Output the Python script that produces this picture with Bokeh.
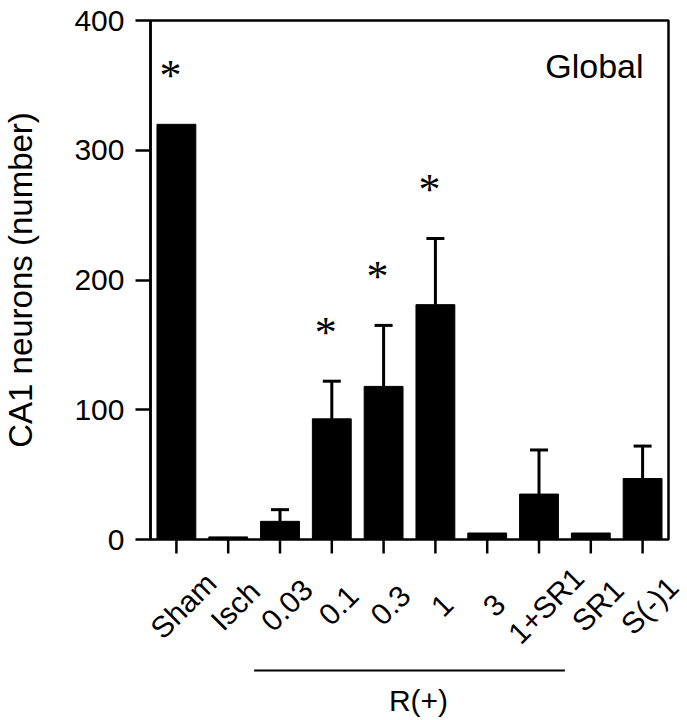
import math
from bokeh.plotting import figure
from bokeh.models import (ColumnDataSource, Range1d, FixedTicker, LabelSet, Label,
                          Whisker, TeeHead, BoxAnnotation)
from bokeh.core.properties import value
from bokeh.embed import file_html
from bokeh.resources import INLINE

# ---- data ----
categories = ["Sham", "Isch", "0.03", "0.1", "0.3", "1", "3", "1+SR1", "SR1", "S(-)1"]
neurons = [320, 2, 14, 93, 118, 181, 5, 35, 5, 47]
sem = [0, 0, 9, 29, 47, 51, 0, 34, 0, 25]
significant = [True, False, False, True, True, True, False, False, False, False]
y_ticks = [0, 100, 200, 300, 400]
group_label = "R(+)"
group_members = ["0.03", "0.1", "0.3", "1", "3", "1+SR1"]
panel_label = "Global"
y_label = "CA1 neurons (number)"

FONT = "Liberation Sans"
xs = list(range(len(categories)))
upper = [n + e for n, e in zip(neurons, sem)]

# ---- layout constants (pixels) ----
W, H = 687, 720
BOX_W = 518            # width of the boxed plot area
BOX_H = 519            # height of the 0..400 boxed area
LEFT = 150             # left edge of the box
TOP = 20               # top edge of the box
y_max = 400
x_start, x_end = -0.5, len(categories) - 0.5
px_per_unit = BOX_W / (x_end - x_start)
units_per_px = y_max / BOX_H
BELOW_H = H - TOP - BOX_H
RIGHT_PAD = W - LEFT - BOX_W


def px_below(px):
    """data y for a point `px` screen pixels below the zero line"""
    return -px * units_per_px


p = figure(frame_width=W, frame_height=H,
           x_range=Range1d(x_start - LEFT / px_per_unit, x_end + RIGHT_PAD / px_per_unit),
           y_range=Range1d(px_below(BELOW_H), y_max + TOP * units_per_px),
           output_backend="svg", toolbar_location=None, x_axis_location=None,
           min_border_left=0, min_border_top=0, min_border_right=0, min_border_bottom=0)
p.xgrid.visible = False
p.ygrid.visible = False
p.background_fill_color = "white"
p.border_fill_color = "white"
p.outline_line_color = None

# box around the data area
p.add_layout(BoxAnnotation(left=x_start, right=x_end, bottom=0, top=y_max,
                           fill_color=None, fill_alpha=0, line_color="black",
                           line_width=2.5, line_alpha=1.0, level="underlay"))

# y axis, pinned to the left edge of the box and limited to 0..400
ya = p.yaxis[0]
ya.fixed_location = x_start
ya.bounds = (0, y_max)
ya.ticker = FixedTicker(ticks=y_ticks)
ya.major_tick_out = 15
ya.major_tick_in = 0
ya.minor_tick_out = 0
ya.minor_tick_in = 0
ya.axis_line_width = 2.5
ya.major_tick_line_width = 2.5
ya.axis_line_color = "black"
ya.major_tick_line_color = "black"
ya.major_label_text_font = FONT
ya.major_label_text_font_size = "30px"
ya.major_label_text_color = "black"
ya.major_label_standoff = 11

# y axis title, centred on the 0..400 box
p.text(x=[x_start], y=[y_max / 2], text=[y_label], angle=math.pi / 2, x_offset=-130,
       text_align="center", text_baseline="middle", text_font=value(FONT),
       text_font_size="33px", text_color="black")

src = ColumnDataSource(dict(x=xs, top=neurons, upper=upper, cat=categories,
                            zero=[0] * len(xs), tick=[px_below(14)] * len(xs)))

# x ticks below the zero line
p.segment(x0="x", x1="x", y0="zero", y1="tick", line_color="black", line_width=2.5, source=src)

p.vbar(x="x", top="top", bottom=0, width=0.75, fill_color="black", line_color="black", source=src)

# error bars (upper only)
err_idx = [i for i, e in enumerate(sem) if e > 0]
err_src = ColumnDataSource(dict(x=[xs[i] for i in err_idx],
                                lower=[neurons[i] for i in err_idx],
                                upper=[upper[i] for i in err_idx]))
p.add_layout(Whisker(base="x", lower="lower", upper="upper", source=err_src, dimension="height",
                     line_color="black", line_width=3, lower_head=None,
                     upper_head=TeeHead(size=18, line_width=3, line_color="black")))

# significance asterisks
sig_idx = [i for i, s in enumerate(significant) if s]
sig_src = ColumnDataSource(dict(x=[xs[i] for i in sig_idx], y=[upper[i] for i in sig_idx],
                                t=["*"] * len(sig_idx)))
p.add_layout(LabelSet(x="x", y="y", text="t", source=sig_src, x_offset=-6, y_offset=49,
                      text_align="center", text_baseline="middle", text_font=FONT,
                      text_font_size="44px", text_color="black"))

# panel label
p.add_layout(Label(x=x_end, y=y_max, x_offset=-25, y_offset=-45, text=panel_label,
                   text_align="right", text_baseline="middle", text_font=FONT,
                   text_font_size="34px", text_color="black"))

# rotated category labels
p.text(x="x", y=px_below(66), text="cat", source=src, angle=math.pi / 4, x_offset=7,
       text_align="center", text_baseline="middle", text_font=value(FONT),
       text_font_size="30px", text_color="black")

# group bracket R(+)
g0 = categories.index(group_members[0]) - 0.5
g1 = categories.index(group_members[-1]) + 0.5
p.segment(x0=[g0], x1=[g1], y0=[px_below(131)], y1=[px_below(131)],
          line_color="black", line_width=2)
p.text(x=[(g0 + g1) / 2], y=[px_below(161)], text=[group_label], x_offset=9,
       text_align="center", text_baseline="middle", text_font=value(FONT),
       text_font_size="30px", text_color="black")

open("out.html", "w").write(file_html(p, INLINE))
